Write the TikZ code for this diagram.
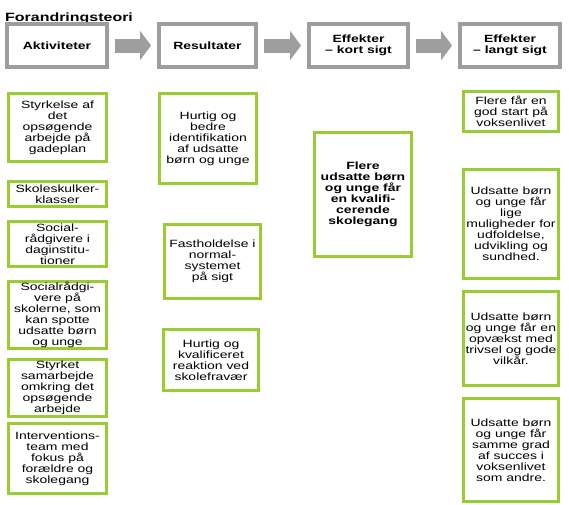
\documentclass[tikz,border=0pt]{standalone}
\usepackage{fontspec}
\setmainfont{Liberation Sans}[FakeStretch=1.33]
\usetikzlibrary{arrows.meta}
\definecolor{stage}{HTML}{9E9E9E}
\definecolor{measure}{HTML}{99CC33}

\begin{document}
\begin{tikzpicture}[x=1pt,y=-1pt,
  headbox/.style={draw=stage,line width=4pt,fill=white,align=center,inner sep=1pt,
    font=\fontsize{10.5}{11}\selectfont\bfseries},
  itembox/.style={draw=measure,line width=3pt,fill=white,align=center,inner sep=1pt,
    font=\fontsize{10.5}{11}\selectfont},
  blockarrow/.style={stage,line width=14pt,-{Triangle[length=11pt,width=29pt]},
    shorten <=6pt,shorten >=6pt}]
  \useasboundingbox (0,0) rectangle (569,504);

  % Title
  \node[anchor=base west,inner sep=0pt,font=\fontsize{12}{13}\selectfont\bfseries]
    (title) at (5,21) {Forandringsteori};

  % Header row
  \node[headbox,minimum width=100pt,minimum height=43pt] (akt) at (57,45.5) {Aktiviteter};
  \node[headbox,minimum width=97pt,minimum height=43pt] (res) at (207.5,45.5) {Resultater};
  \node[headbox,minimum width=99pt,minimum height=43pt] (kort) at (358.5,45.5) {Effekter\\– kort sigt};
  \node[headbox,minimum width=100pt,minimum height=43pt] (lang) at (510,45.5) {Effekter\\– langt sigt};

  \draw[blockarrow] (akt) -- (res);
  \draw[blockarrow] (res) -- (kort);
  \draw[blockarrow] (kort) -- (lang);

  % Aktiviteter
  \node[itembox,minimum width=98pt,minimum height=68pt] (a1) at (57.5,127.5)
    {Styrkelse af\\det\\opsøgende\\arbejde på\\gadeplan};
  \node[itembox,minimum width=98pt,minimum height=25pt] (a2) at (57.5,194)
    {Skoleskulker-\\klasser};
  \node[itembox,minimum width=98pt,minimum height=45pt] (a3) at (57.5,244)
    {Social-\\rådgivere i\\daginstitu-\\tioner};
  \node[itembox,minimum width=98pt,minimum height=67pt] (a4) at (57.5,315)
    {Socialrådgi-\\vere på\\skolerne, som\\kan spotte\\udsatte børn\\og unge};
  \node[itembox,minimum width=98pt,minimum height=57pt] (a5) at (57.5,388)
    {Styrket\\samarbejde\\omkring det\\opsøgende\\arbejde};
  \node[itembox,minimum width=98pt,minimum height=70pt] (a6) at (57.5,458.5)
    {Interventions-\\team med\\fokus på\\forældre og\\skolegang};

  % Resultater
  \node[itembox,minimum width=97pt,minimum height=90pt] (r1) at (208,138.5)
    {Hurtig og\\bedre\\identifikation\\af udsatte\\børn og unge};
  \node[itembox,minimum width=96pt,minimum height=74pt] (r2) at (212.5,261.5)
    {Fastholdelse i\\normal-\\systemet\\på sigt};
  \node[itembox,minimum width=95pt,minimum height=61pt] (r3) at (211,360)
    {Hurtig og\\kvalificeret\\reaktion ved\\skolefravær};

  % Effekter - kort sigt
  \node[itembox,font=\fontsize{10.5}{11}\selectfont\bfseries,minimum width=97pt,minimum height=124pt]
    (k1) at (363,194.5) {Flere\\udsatte børn\\og unge får\\en kvalifi-\\cerende\\skolegang};

  % Effekter - langt sigt
  \node[itembox,minimum width=95pt,minimum height=40pt] (l1) at (511,111.5)
    {Flere får en\\god start på\\voksenlivet};
  \node[itembox,minimum width=95pt,minimum height=109pt] (l2) at (511,224)
    {Udsatte børn\\og unge får\\lige\\muligheder for\\udfoldelse,\\udvikling og\\sundhed.};
  \node[itembox,minimum width=95pt,minimum height=94pt] (l3) at (511,338.5)
    {Udsatte børn\\og unge får en\\opvækst med\\trivsel og gode\\vilkår.};
  \node[itembox,minimum width=95pt,minimum height=103pt] (l4) at (511,450)
    {Udsatte børn\\og unge får\\samme grad\\af succes i\\voksenlivet\\som andre.};
\end{tikzpicture}
\end{document}
